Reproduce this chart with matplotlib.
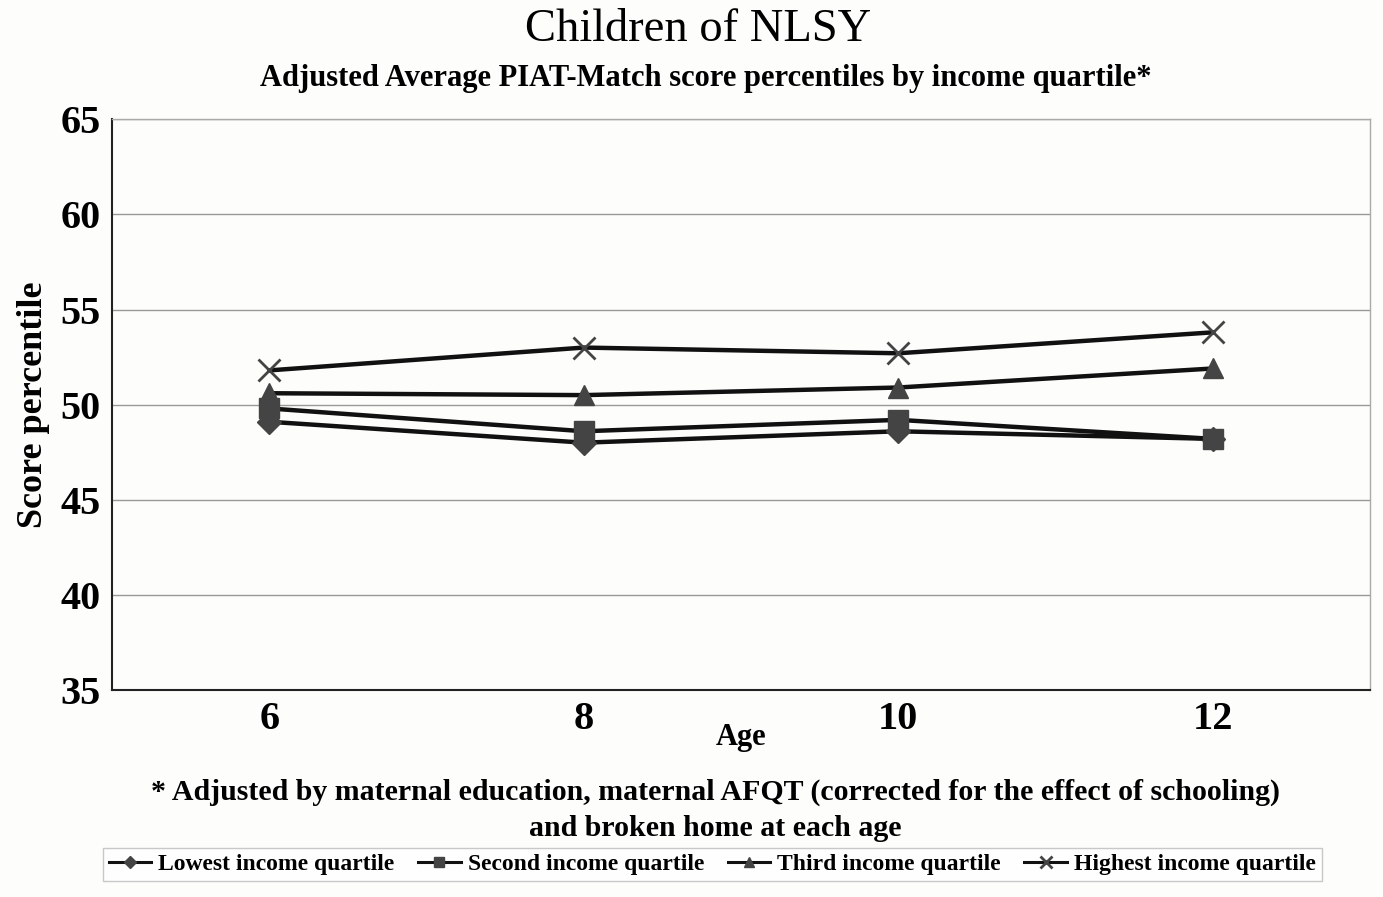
import matplotlib
matplotlib.use("Agg")
import matplotlib.pyplot as plt

ages = ["6", "8", "10", "12"]
lowest = [49.1, 48.0, 48.6, 48.2]
second = [49.8, 48.6, 49.2, 48.2]
third = [50.6, 50.5, 50.9, 51.9]
highest = [51.8, 53.0, 52.7, 53.8]
series_names = ["Lowest income quartile", "Second income quartile",
                "Third income quartile", "Highest income quartile"]
yticks = [35, 40, 45, 50, 55, 60, 65]

plt.rcParams['font.family'] = ['Liberation Serif', 'DejaVu Serif']

fig = plt.figure(figsize=(13.83, 8.97), dpi=100)
fig.patch.set_facecolor('#fdfdfb')
ax = fig.add_axes([0.081, 0.2308, 0.9096, 0.6362])
ax.set_facecolor('#fdfdfb')

x = list(range(len(ages)))
mk = [('D', 12), ('s', 14), ('^', 15), ('x', 16)]
for vals, name, (m, s) in zip([lowest, second, third, highest], series_names, mk):
    ax.plot(x, vals, color='#111111', lw=3.2, marker=m, markersize=s,
            markerfacecolor='#444444', markeredgecolor='#444444',
            markeredgewidth=2 if m == 'x' else 1, label=name, zorder=3)

ax.set_xlim(-0.5, 3.5)
ax.set_ylim(35, 65)
ax.set_yticks(yticks)
ax.set_xticks(x)
ax.set_xticklabels(ages)
ax.tick_params(axis='both', labelsize=29, length=0, pad=8)
for lab in ax.get_xticklabels() + ax.get_yticklabels():
    lab.set_fontweight('bold')
ax.grid(axis='y', color='#999999', lw=1)
ax.set_axisbelow(True)
for sp in ['top', 'right']:
    ax.spines[sp].set_color('#aaaaaa')
    ax.spines[sp].set_linewidth(1)
for sp in ['left', 'bottom']:
    ax.spines[sp].set_color('#222222')
    ax.spines[sp].set_linewidth(1.5)

ax.set_ylabel("Score percentile", fontsize=26, fontweight='bold', labelpad=8)
fig.text(0.536, 0.178, "Age", ha='center', va='center', fontsize=22, fontweight='bold')

fig.text(0.505, 0.967, "Children of NLSY", ha='center', va='center', fontsize=33.5)
fig.text(0.510, 0.912, "Adjusted Average PIAT-Match score percentiles by income quartile*",
         ha='center', va='center', fontsize=22, fontweight='bold')
fig.text(0.517, 0.117, "* Adjusted by maternal education, maternal AFQT (corrected for the effect of schooling)",
         ha='center', va='center', fontsize=21.5, fontweight='bold')
fig.text(0.517, 0.076, "and broken home at each age",
         ha='center', va='center', fontsize=21.5, fontweight='bold')

leg = fig.legend(loc='center', bbox_to_anchor=(0.515, 0.036), ncol=4, frameon=True,
                 prop={'weight': 'bold', 'size': 17}, handlelength=1.8, handletextpad=0.3,
                 columnspacing=1.0, borderpad=0.25, fancybox=False, edgecolor='#bbbbbb',
                 markerscale=0.5)
for h in leg.legend_handles:
    h.set_linewidth(2.2)

fig.savefig("out.png", dpi=100, facecolor=fig.get_facecolor())
